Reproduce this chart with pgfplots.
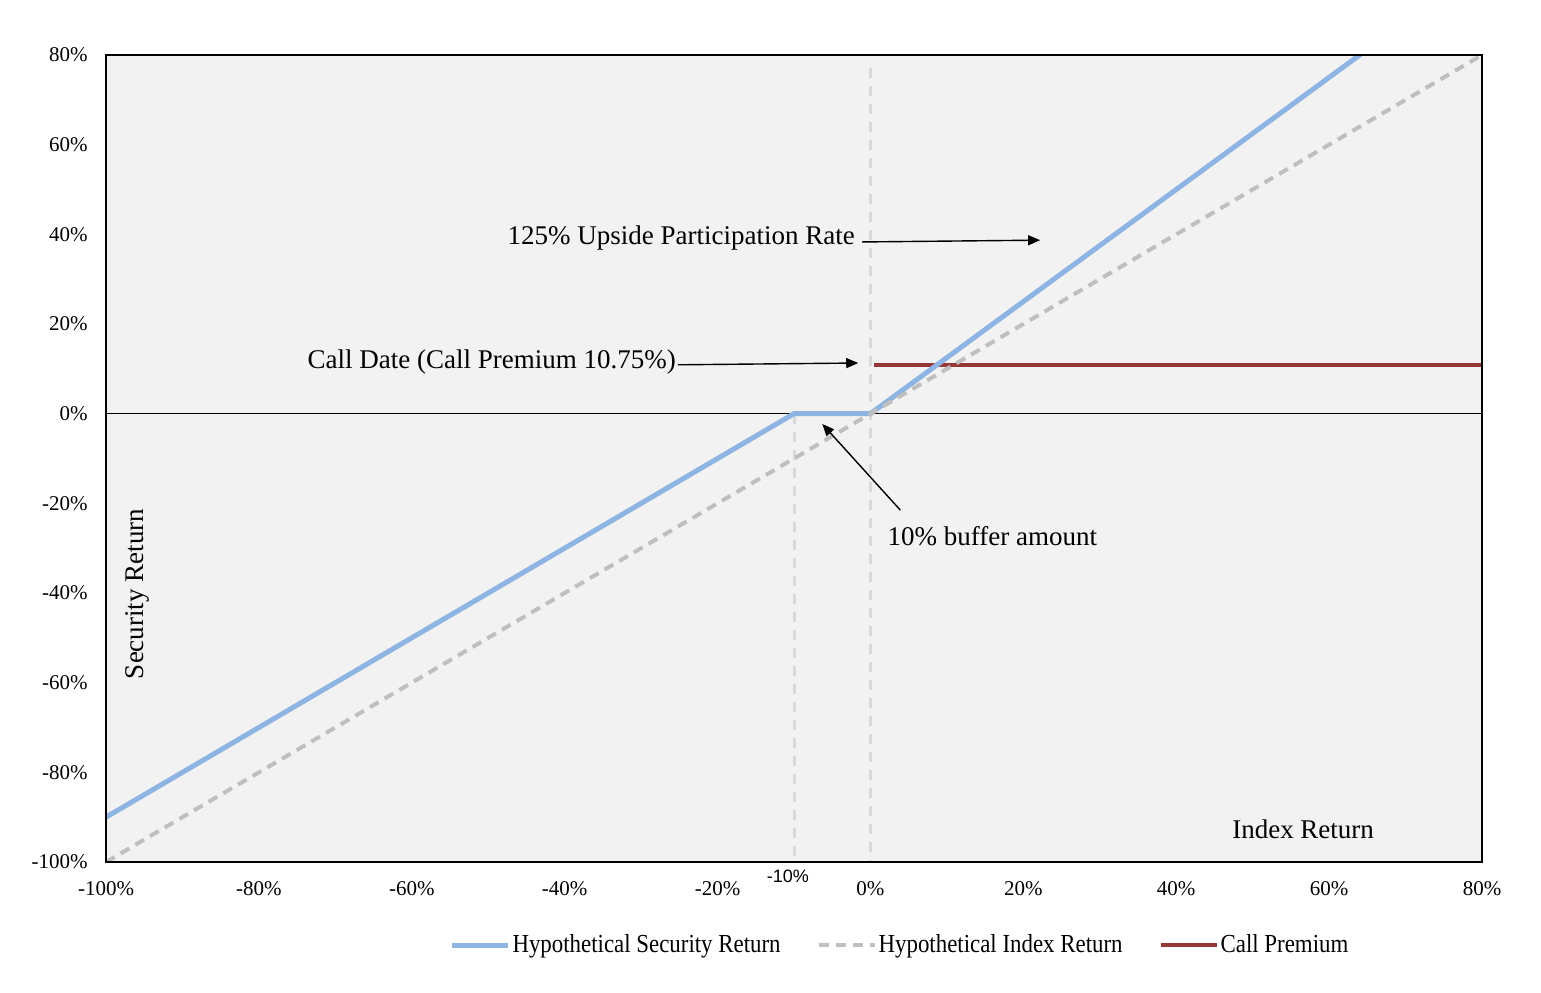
\documentclass[border=0pt]{standalone}
\usepackage{fontspec}
\setmainfont{Liberation Serif}
\newfontfamily\legfont[FakeStretch=0.88]{Liberation Serif}
\newfontfamily\sansf{Liberation Sans}
\usepackage{pgfplots}
\pgfplotsset{compat=1.18}
\usetikzlibrary{arrows.meta}
\definecolor{secblue}{HTML}{8DB4E2}
\definecolor{idxgray}{HTML}{BFBFBF}
\definecolor{callred}{HTML}{953735}
\definecolor{vgray}{HTML}{D9D9D9}
\definecolor{bg}{HTML}{F2F2F2}
\newcommand{\annot}{\fontsize{13.5}{16}\selectfont}
\begin{document}
\begin{tikzpicture}
\useasboundingbox (-53pt,-65pt) rectangle (717.5pt,431pt);
\begin{axis}[
  at={(0,0)}, anchor=south west,
  scale only axis, width=688pt, height=403.5pt,
  xmin=-100, xmax=80, ymin=-100, ymax=80,
  axis background/.style={fill=bg},
  axis on top,
  axis line style={black, line width=1pt},
  xtick={-100,-80,-60,-40,-20,0,20,40,60,80},
  ytick={-100,-80,-60,-40,-20,0,20,40,60,80},
  xticklabels={-100\%,-80\%,-60\%,-40\%,-20\%,0\%,20\%,40\%,60\%,80\%},
  yticklabels={-100\%,-80\%,-60\%,-40\%,-20\%,0\%,20\%,40\%,60\%,80\%},
  major tick length=0pt,
  tick label style={font=\fontsize{10.5}{12}\selectfont},
  xticklabel style={anchor=base, yshift=-16.5pt},
  yticklabel style={anchor=east, xshift=-5.7pt},
  clip mode=individual,
  legend style={at={(0.577,-0.103)}, anchor=center, draw=none, fill=none,
    legend columns=3, font=\legfont\fontsize{13}{15}\selectfont,
    /tikz/every even column/.append style={column sep=17pt},
    nodes={inner sep=1pt}},
  legend image code/.code={\draw[#1] (0pt,0pt) -- (28pt,0pt);},
]
\addplot[black, line width=0.8pt, forget plot] coordinates {(-100,0) (80,0)};
\addplot[vgray, line width=1.5pt, dash pattern=on 5pt off 4pt, forget plot] coordinates {(0,77) (0,-100)};
\addplot[vgray, line width=1.5pt, dash pattern=on 5pt off 4pt, forget plot] coordinates {(-10,0) (-10,-100)};
\addplot[callred, line width=2pt, forget plot] coordinates {(0.5,10.75) (80,10.75)};
\addplot[secblue, line width=2.5pt] coordinates {(-100,-90) (-10,0) (0,0) (80,100)};
\addlegendentry{Hypothetical Security Return}
\addplot[idxgray, line width=2pt, dash pattern=on 5pt off 3.5pt] coordinates {(-100,-100) (80,80)};
\addlegendentry{Hypothetical Index Return}
\addlegendimage{callred, line width=2pt}
\addlegendentry{Call Premium}

\draw[-{Triangle[length=6pt,width=5pt]}, line width=0.7pt] (axis cs:-1.1,38.3) -- (axis cs:22.2,38.7);
\node[anchor=east, inner sep=0pt, font=\annot] at (axis cs:-2.0,39.2) {125\% Upside Participation Rate};
\draw[-{Triangle[length=6pt,width=5pt]}, line width=0.7pt] (axis cs:-25.2,10.9) -- (axis cs:-1.6,11.3);
\node[anchor=east, inner sep=0pt, font=\annot] at (axis cs:-25.4,11.5) {Call Date (Call Premium 10.75\%)};
\draw[-{Triangle[length=6pt,width=5pt]}, line width=0.7pt] (axis cs:3.9,-21.5) -- (axis cs:-6.3,-2.3);
\node[anchor=west, inner sep=0pt, font=\annot] at (axis cs:2.2,-27.3) {10\% buffer amount};
\node[rotate=90, inner sep=0pt, font=\annot] at (axis cs:-95.9,-40.2) {Security Return};
\node[inner sep=0pt, font=\annot] at (axis cs:56.6,-92.6) {Index Return};
\node[inner sep=0pt, font=\sansf\fontsize{9}{11}\selectfont, yshift=-7pt] at (axis cs:-10.8,-100) {-10\%};
\end{axis}
\end{tikzpicture}
\end{document}
